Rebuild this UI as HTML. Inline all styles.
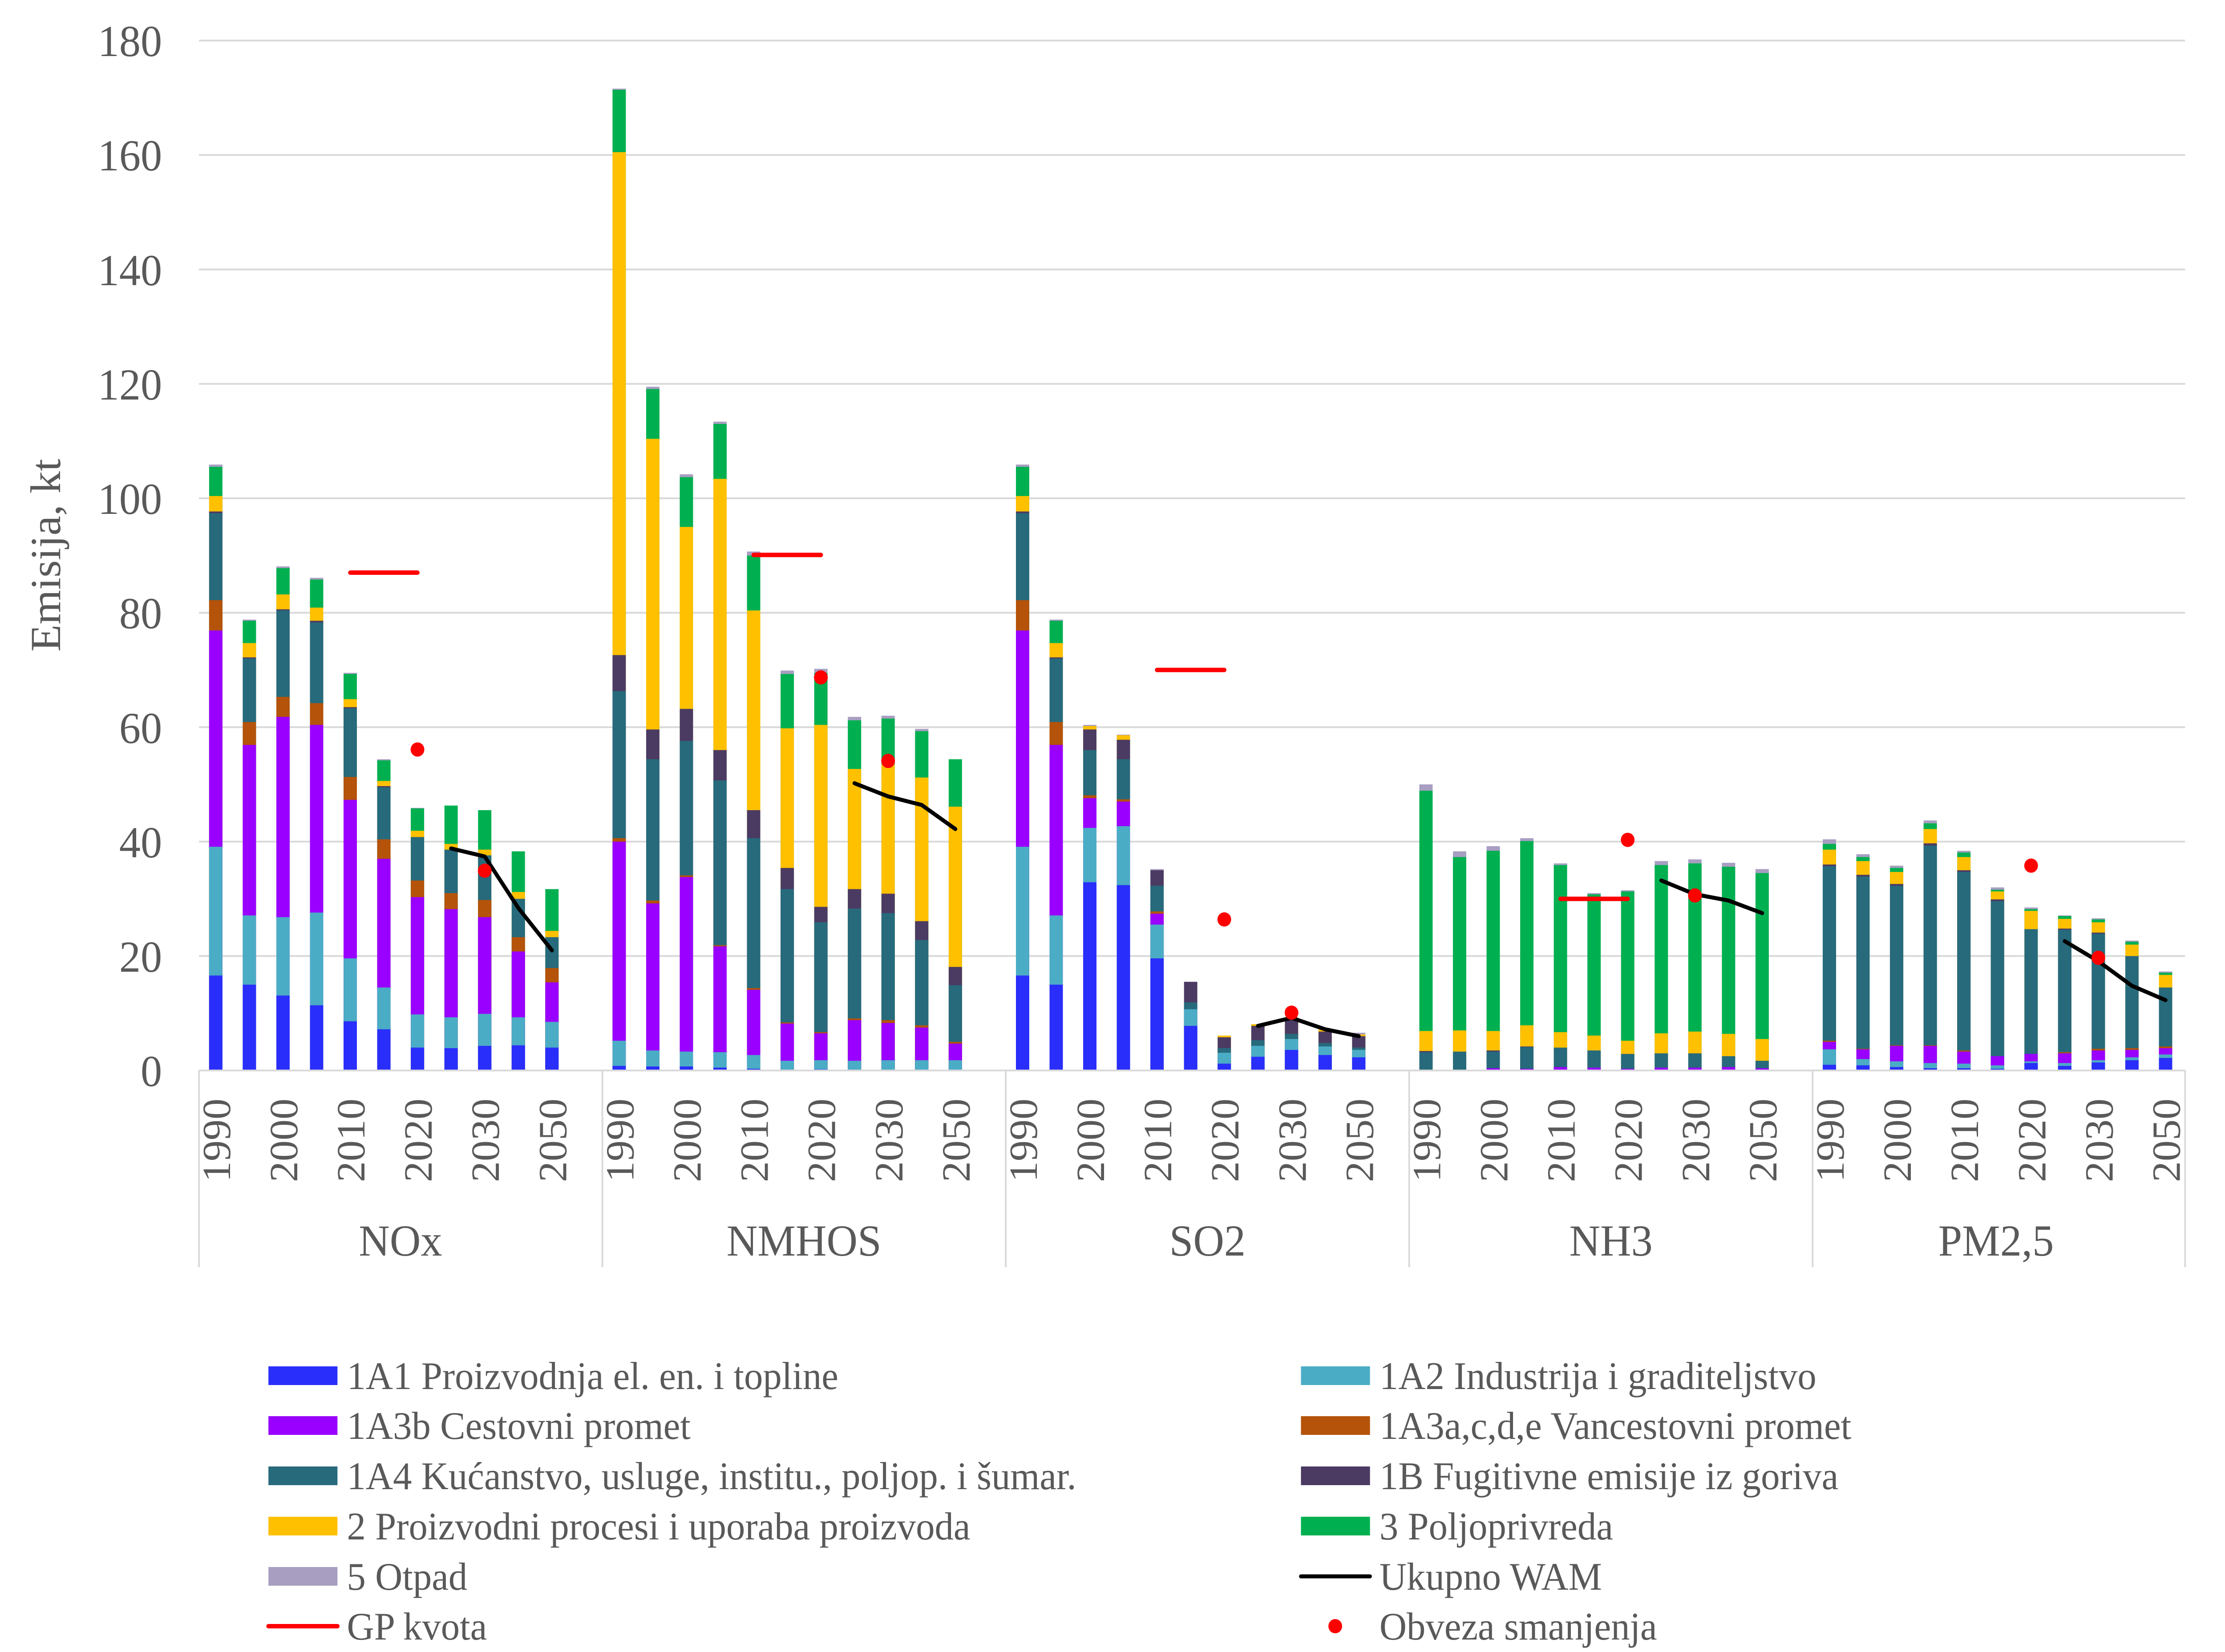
<!DOCTYPE html>
<html><head><meta charset="utf-8"><style>
html,body{margin:0;padding:0;background:#fff;overflow:hidden;width:100%;height:100%}
svg{display:block;position:fixed;left:0;top:0;width:100vw;height:100vh}
.o{fill:#A89EC1}.p{fill:#00B050}.y{fill:#FFC000}.f{fill:#4B3B62}.t{fill:#276A7C}.r{fill:#B45309}.c{fill:#9900FF}.l{fill:#4BACC6}.b{fill:#2A2EFA}
text{font-family:"Liberation Serif",serif;fill:#595959}
.yt{font-size:100px;text-anchor:end}
.xt{font-size:94px;text-anchor:end}
.gl{font-size:100px;text-anchor:middle}
.lg{font-size:88px}
</style></head><body>
<svg viewBox="0 0 5189 3713" preserveAspectRatio="none" xmlns="http://www.w3.org/2000/svg">
<rect width="5189" height="3713" fill="#fff"/>
<g stroke="#D9D9D9" stroke-width="4">
<line x1="464" x2="5096" y1="2148.8" y2="2148.8"/><line x1="464" x2="5096" y1="1891.6" y2="1891.6"/>
<line x1="464" x2="5096" y1="1634.4" y2="1634.4"/><line x1="464" x2="5096" y1="1377.2" y2="1377.2"/>
<line x1="464" x2="5096" y1="1120" y2="1120"/><line x1="464" x2="5096" y1="862.8" y2="862.8"/>
<line x1="464" x2="5096" y1="605.6" y2="605.6"/><line x1="464" x2="5096" y1="348.4" y2="348.4"/>
<line x1="464" x2="5096" y1="91.2" y2="91.2"/>
</g>
<g class="yt">
<text x="378" y="2441">0</text><text x="378" y="2184">20</text><text x="378" y="1927">40</text>
<text x="378" y="1670">60</text><text x="378" y="1412">80</text><text x="378" y="1155">100</text>
<text x="378" y="898">120</text><text x="378" y="641">140</text><text x="378" y="383">160</text>
<text x="378" y="126">180</text>
</g>
<text transform="translate(140,1248) rotate(-90)" style="font-size:100px;text-anchor:middle">Emisija, kt</text>

<g transform="translate(0,2406) scale(1,-12.86)">
<g transform="translate(487.7,0)"><rect class="o" width="31" height="105.9"/><rect class="p" width="31" height="105.5"/><rect class="y" width="31" height="100.4"/><rect class="f" width="31" height="97.7"/><rect class="t" width="31" height="97.4"/><rect class="r" width="31" height="82.2"/><rect class="c" width="31" height="76.9"/><rect class="l" width="31" height="39.1"/><rect class="b" width="31" height="16.6"/></g>
<g transform="translate(566.1,0)"><rect class="o" width="31" height="78.8"/><rect class="p" width="31" height="78.6"/><rect class="y" width="31" height="74.7"/><rect class="f" width="31" height="72.2"/><rect class="t" width="31" height="72.0"/><rect class="r" width="31" height="60.9"/><rect class="c" width="31" height="56.9"/><rect class="l" width="31" height="27.1"/><rect class="b" width="31" height="15.0"/></g>
<g transform="translate(644.5,0)"><rect class="o" width="31" height="88.1"/><rect class="p" width="31" height="87.8"/><rect class="y" width="31" height="83.2"/><rect class="f" width="31" height="80.6"/><rect class="t" width="31" height="80.4"/><rect class="r" width="31" height="65.3"/><rect class="c" width="31" height="61.8"/><rect class="l" width="31" height="26.8"/><rect class="b" width="31" height="13.1"/></g>
<g transform="translate(722.9,0)"><rect class="o" width="31" height="86.1"/><rect class="p" width="31" height="85.8"/><rect class="y" width="31" height="80.9"/><rect class="f" width="31" height="78.6"/><rect class="t" width="31" height="78.3"/><rect class="r" width="31" height="64.2"/><rect class="c" width="31" height="60.4"/><rect class="l" width="31" height="27.6"/><rect class="b" width="31" height="11.4"/></g>
<g transform="translate(801.3,0)"><rect class="o" width="31" height="69.5"/><rect class="p" width="31" height="69.3"/><rect class="y" width="31" height="64.9"/><rect class="f" width="31" height="63.5"/><rect class="t" width="31" height="63.3"/><rect class="r" width="31" height="51.3"/><rect class="c" width="31" height="47.3"/><rect class="l" width="31" height="19.6"/><rect class="b" width="31" height="8.6"/></g>
<g transform="translate(879.7,0)"><rect class="o" width="31" height="54.4"/><rect class="p" width="31" height="54.2"/><rect class="y" width="31" height="50.6"/><rect class="f" width="31" height="49.7"/><rect class="t" width="31" height="49.5"/><rect class="r" width="31" height="40.4"/><rect class="c" width="31" height="37.0"/><rect class="l" width="31" height="14.5"/><rect class="b" width="31" height="7.2"/></g>
<g transform="translate(958.1,0)"><rect class="o" width="31" height="45.9"/><rect class="p" width="31" height="45.8"/><rect class="y" width="31" height="41.9"/><rect class="t" width="31" height="40.8"/><rect class="r" width="31" height="33.2"/><rect class="c" width="31" height="30.3"/><rect class="l" width="31" height="9.8"/><rect class="b" width="31" height="4.0"/></g>
<g transform="translate(1036.5,0)"><rect class="p" width="31" height="46.3"/><rect class="y" width="31" height="39.6"/><rect class="t" width="31" height="38.6"/><rect class="r" width="31" height="31.0"/><rect class="c" width="31" height="28.2"/><rect class="l" width="31" height="9.3"/><rect class="b" width="31" height="3.9"/></g>
<g transform="translate(1114.9,0)"><rect class="p" width="31" height="45.5"/><rect class="y" width="31" height="38.6"/><rect class="t" width="31" height="37.6"/><rect class="r" width="31" height="29.8"/><rect class="c" width="31" height="26.8"/><rect class="l" width="31" height="9.9"/><rect class="b" width="31" height="4.3"/></g>
<g transform="translate(1193.3,0)"><rect class="p" width="31" height="38.3"/><rect class="y" width="31" height="31.2"/><rect class="t" width="31" height="30.0"/><rect class="r" width="31" height="23.3"/><rect class="c" width="31" height="20.8"/><rect class="l" width="31" height="9.3"/><rect class="b" width="31" height="4.4"/></g>
<g transform="translate(1271.7,0)"><rect class="p" width="31" height="31.7"/><rect class="y" width="31" height="24.4"/><rect class="t" width="31" height="23.3"/><rect class="r" width="31" height="17.9"/><rect class="c" width="31" height="15.4"/><rect class="l" width="31" height="8.5"/><rect class="b" width="31" height="4.0"/></g>
<g transform="translate(1428.5,0)"><rect class="o" width="31" height="171.6"/><rect class="p" width="31" height="171.4"/><rect class="y" width="31" height="160.5"/><rect class="f" width="31" height="72.6"/><rect class="t" width="31" height="66.3"/><rect class="r" width="31" height="40.6"/><rect class="c" width="31" height="40.0"/><rect class="l" width="31" height="5.2"/><rect class="b" width="31" height="0.8"/></g>
<g transform="translate(1506.9,0)"><rect class="o" width="31" height="119.5"/><rect class="p" width="31" height="119.1"/><rect class="y" width="31" height="110.4"/><rect class="f" width="31" height="59.6"/><rect class="t" width="31" height="54.4"/><rect class="r" width="31" height="29.7"/><rect class="c" width="31" height="29.2"/><rect class="l" width="31" height="3.5"/><rect class="b" width="31" height="0.7"/></g>
<g transform="translate(1585.3,0)"><rect class="o" width="31" height="104.2"/><rect class="p" width="31" height="103.7"/><rect class="y" width="31" height="95.0"/><rect class="f" width="31" height="63.2"/><rect class="t" width="31" height="57.6"/><rect class="r" width="31" height="34.1"/><rect class="c" width="31" height="33.8"/><rect class="l" width="31" height="3.3"/><rect class="b" width="31" height="0.7"/></g>
<g transform="translate(1663.7,0)"><rect class="o" width="31" height="113.4"/><rect class="p" width="31" height="113.0"/><rect class="y" width="31" height="103.4"/><rect class="f" width="31" height="56.0"/><rect class="t" width="31" height="50.7"/><rect class="r" width="31" height="21.9"/><rect class="c" width="31" height="21.7"/><rect class="l" width="31" height="3.2"/><rect class="b" width="31" height="0.5"/></g>
<g transform="translate(1742.1,0)"><rect class="o" width="31" height="90.7"/><rect class="p" width="31" height="90.0"/><rect class="y" width="31" height="80.4"/><rect class="f" width="31" height="45.5"/><rect class="t" width="31" height="40.6"/><rect class="r" width="31" height="14.4"/><rect class="c" width="31" height="14.1"/><rect class="l" width="31" height="2.7"/><rect class="b" width="31" height="0.3"/></g>
<g transform="translate(1820.5,0)"><rect class="o" width="31" height="69.9"/><rect class="p" width="31" height="69.3"/><rect class="y" width="31" height="59.8"/><rect class="f" width="31" height="35.4"/><rect class="t" width="31" height="31.7"/><rect class="r" width="31" height="8.4"/><rect class="c" width="31" height="8.2"/><rect class="l" width="31" height="1.7"/></g>
<g transform="translate(1898.9,0)"><rect class="o" width="31" height="70.2"/><rect class="p" width="31" height="69.5"/><rect class="y" width="31" height="60.4"/><rect class="f" width="31" height="28.6"/><rect class="t" width="31" height="25.9"/><rect class="r" width="31" height="6.7"/><rect class="c" width="31" height="6.5"/><rect class="l" width="31" height="1.8"/><rect class="b" width="31" height="0.2"/></g>
<g transform="translate(1977.3,0)"><rect class="o" width="31" height="61.8"/><rect class="p" width="31" height="61.2"/><rect class="y" width="31" height="52.7"/><rect class="f" width="31" height="31.7"/><rect class="t" width="31" height="28.3"/><rect class="r" width="31" height="9.1"/><rect class="c" width="31" height="8.8"/><rect class="l" width="31" height="1.7"/></g>
<g transform="translate(2055.7,0)"><rect class="o" width="31" height="62.0"/><rect class="p" width="31" height="61.5"/><rect class="y" width="31" height="53.5"/><rect class="f" width="31" height="30.9"/><rect class="t" width="31" height="27.5"/><rect class="r" width="31" height="8.8"/><rect class="c" width="31" height="8.3"/><rect class="l" width="31" height="1.8"/></g>
<g transform="translate(2134.1,0)"><rect class="o" width="31" height="59.7"/><rect class="p" width="31" height="59.3"/><rect class="y" width="31" height="51.2"/><rect class="f" width="31" height="26.1"/><rect class="t" width="31" height="22.8"/><rect class="r" width="31" height="7.9"/><rect class="c" width="31" height="7.5"/><rect class="l" width="31" height="1.8"/></g>
<g transform="translate(2212.5,0)"><rect class="p" width="31" height="54.4"/><rect class="y" width="31" height="46.1"/><rect class="f" width="31" height="18.1"/><rect class="t" width="31" height="14.9"/><rect class="r" width="31" height="5.0"/><rect class="c" width="31" height="4.7"/><rect class="l" width="31" height="1.8"/></g>
<g transform="translate(2369.3,0)"><rect class="o" width="31" height="105.9"/><rect class="p" width="31" height="105.5"/><rect class="y" width="31" height="100.4"/><rect class="f" width="31" height="97.7"/><rect class="t" width="31" height="97.4"/><rect class="r" width="31" height="82.2"/><rect class="c" width="31" height="76.9"/><rect class="l" width="31" height="39.1"/><rect class="b" width="31" height="16.6"/></g>
<g transform="translate(2447.7,0)"><rect class="o" width="31" height="78.8"/><rect class="p" width="31" height="78.6"/><rect class="y" width="31" height="74.7"/><rect class="f" width="31" height="72.2"/><rect class="t" width="31" height="72.0"/><rect class="r" width="31" height="60.9"/><rect class="c" width="31" height="56.9"/><rect class="l" width="31" height="27.1"/><rect class="b" width="31" height="15.0"/></g>
<g transform="translate(2526.1,0)"><rect class="o" width="31" height="60.4"/><rect class="y" width="31" height="60.2"/><rect class="f" width="31" height="59.6"/><rect class="t" width="31" height="56.0"/><rect class="r" width="31" height="48.1"/><rect class="c" width="31" height="47.6"/><rect class="l" width="31" height="42.4"/><rect class="b" width="31" height="32.9"/></g>
<g transform="translate(2604.5,0)"><rect class="o" width="31" height="58.7"/><rect class="y" width="31" height="58.6"/><rect class="f" width="31" height="57.8"/><rect class="t" width="31" height="54.4"/><rect class="r" width="31" height="47.4"/><rect class="c" width="31" height="47.0"/><rect class="l" width="31" height="42.7"/><rect class="b" width="31" height="32.4"/></g>
<g transform="translate(2682.9,0)"><rect class="o" width="31" height="35.2"/><rect class="f" width="31" height="35.0"/><rect class="t" width="31" height="32.3"/><rect class="r" width="31" height="27.8"/><rect class="c" width="31" height="27.4"/><rect class="l" width="31" height="25.5"/><rect class="b" width="31" height="19.6"/></g>
<g transform="translate(2761.3,0)"><rect class="f" width="31" height="15.5"/><rect class="t" width="31" height="11.9"/><rect class="l" width="31" height="10.7"/><rect class="b" width="31" height="7.8"/></g>
<g transform="translate(2839.7,0)"><rect class="y" width="31" height="6.1"/><rect class="f" width="31" height="5.8"/><rect class="t" width="31" height="3.9"/><rect class="l" width="31" height="3.1"/><rect class="b" width="31" height="1.2"/></g>
<g transform="translate(2918.1,0)"><rect class="y" width="31" height="8.1"/><rect class="f" width="31" height="7.8"/><rect class="t" width="31" height="5.3"/><rect class="l" width="31" height="4.3"/><rect class="b" width="31" height="2.4"/></g>
<g transform="translate(2996.5,0)"><rect class="y" width="31" height="9.3"/><rect class="f" width="31" height="9.0"/><rect class="t" width="31" height="6.4"/><rect class="l" width="31" height="5.5"/><rect class="b" width="31" height="3.6"/></g>
<g transform="translate(3074.9,0)"><rect class="y" width="31" height="7.3"/><rect class="f" width="31" height="6.8"/><rect class="t" width="31" height="4.8"/><rect class="l" width="31" height="4.2"/><rect class="b" width="31" height="2.7"/></g>
<g transform="translate(3153.3,0)"><rect class="o" width="31" height="6.6"/><rect class="y" width="31" height="6.3"/><rect class="f" width="31" height="6.0"/><rect class="t" width="31" height="4.0"/><rect class="l" width="31" height="3.6"/><rect class="b" width="31" height="2.3"/></g>
<g transform="translate(3310.1,0)"><rect class="o" width="31" height="50.0"/><rect class="p" width="31" height="48.9"/><rect class="y" width="31" height="6.9"/><rect class="f" width="31" height="3.4"/><rect class="t" width="31" height="3.2"/></g>
<g transform="translate(3388.5,0)"><rect class="o" width="31" height="38.3"/><rect class="p" width="31" height="37.3"/><rect class="y" width="31" height="7.0"/><rect class="t" width="31" height="3.3"/></g>
<g transform="translate(3466.9,0)"><rect class="o" width="31" height="39.2"/><rect class="p" width="31" height="38.4"/><rect class="y" width="31" height="6.9"/><rect class="f" width="31" height="3.5"/><rect class="t" width="31" height="3.3"/><rect class="c" width="31" height="0.4"/></g>
<g transform="translate(3545.3,0)"><rect class="o" width="31" height="40.6"/><rect class="p" width="31" height="40.1"/><rect class="y" width="31" height="7.9"/><rect class="f" width="31" height="4.2"/><rect class="t" width="31" height="4.1"/><rect class="c" width="31" height="0.3"/></g>
<g transform="translate(3623.7,0)"><rect class="o" width="31" height="36.2"/><rect class="p" width="31" height="35.9"/><rect class="y" width="31" height="6.7"/><rect class="t" width="31" height="4.0"/><rect class="c" width="31" height="0.6"/></g>
<g transform="translate(3702.1,0)"><rect class="o" width="31" height="31.0"/><rect class="p" width="31" height="30.8"/><rect class="y" width="31" height="6.1"/><rect class="t" width="31" height="3.5"/><rect class="c" width="31" height="0.5"/></g>
<g transform="translate(3780.5,0)"><rect class="o" width="31" height="31.5"/><rect class="p" width="31" height="31.3"/><rect class="y" width="31" height="5.2"/><rect class="t" width="31" height="2.9"/><rect class="c" width="31" height="0.3"/></g>
<g transform="translate(3858.9,0)"><rect class="o" width="31" height="36.6"/><rect class="p" width="31" height="35.9"/><rect class="y" width="31" height="6.5"/><rect class="t" width="31" height="3.0"/><rect class="c" width="31" height="0.5"/></g>
<g transform="translate(3937.3,0)"><rect class="o" width="31" height="36.9"/><rect class="p" width="31" height="36.2"/><rect class="y" width="31" height="6.8"/><rect class="t" width="31" height="3.0"/><rect class="c" width="31" height="0.5"/></g>
<g transform="translate(4015.7,0)"><rect class="o" width="31" height="36.3"/><rect class="p" width="31" height="35.6"/><rect class="y" width="31" height="6.4"/><rect class="t" width="31" height="2.5"/><rect class="c" width="31" height="0.6"/></g>
<g transform="translate(4094.1,0)"><rect class="o" width="31" height="35.2"/><rect class="p" width="31" height="34.5"/><rect class="y" width="31" height="5.5"/><rect class="t" width="31" height="1.7"/><rect class="c" width="31" height="0.4"/></g>
<g transform="translate(4250.9,0)"><rect class="o" width="31" height="40.4"/><rect class="p" width="31" height="39.6"/><rect class="y" width="31" height="38.6"/><rect class="f" width="31" height="36.0"/><rect class="t" width="31" height="35.7"/><rect class="r" width="31" height="5.2"/><rect class="c" width="31" height="5.0"/><rect class="l" width="31" height="3.7"/><rect class="b" width="31" height="1.0"/></g>
<g transform="translate(4329.3,0)"><rect class="o" width="31" height="37.8"/><rect class="p" width="31" height="37.3"/><rect class="y" width="31" height="36.6"/><rect class="f" width="31" height="34.2"/><rect class="t" width="31" height="33.9"/><rect class="r" width="31" height="3.8"/><rect class="c" width="31" height="3.7"/><rect class="l" width="31" height="2.0"/><rect class="b" width="31" height="0.9"/></g>
<g transform="translate(4407.7,0)"><rect class="o" width="31" height="35.8"/><rect class="p" width="31" height="35.4"/><rect class="y" width="31" height="34.7"/><rect class="f" width="31" height="32.6"/><rect class="t" width="31" height="32.3"/><rect class="r" width="31" height="4.4"/><rect class="c" width="31" height="4.3"/><rect class="l" width="31" height="1.6"/><rect class="b" width="31" height="0.6"/></g>
<g transform="translate(4486.1,0)"><rect class="o" width="31" height="43.7"/><rect class="p" width="31" height="43.2"/><rect class="y" width="31" height="42.2"/><rect class="f" width="31" height="39.7"/><rect class="t" width="31" height="39.3"/><rect class="r" width="31" height="4.4"/><rect class="c" width="31" height="4.3"/><rect class="l" width="31" height="1.3"/><rect class="b" width="31" height="0.4"/></g>
<g transform="translate(4564.5,0)"><rect class="o" width="31" height="38.4"/><rect class="p" width="31" height="38.1"/><rect class="y" width="31" height="37.3"/><rect class="f" width="31" height="35.0"/><rect class="t" width="31" height="34.7"/><rect class="r" width="31" height="3.5"/><rect class="c" width="31" height="3.3"/><rect class="l" width="31" height="1.2"/><rect class="b" width="31" height="0.4"/></g>
<g transform="translate(4642.9,0)"><rect class="o" width="31" height="32.0"/><rect class="p" width="31" height="31.6"/><rect class="y" width="31" height="31.3"/><rect class="f" width="31" height="29.9"/><rect class="t" width="31" height="29.6"/><rect class="c" width="31" height="2.5"/><rect class="l" width="31" height="0.9"/><rect class="b" width="31" height="0.3"/></g>
<g transform="translate(4721.3,0)"><rect class="o" width="31" height="28.5"/><rect class="p" width="31" height="28.2"/><rect class="y" width="31" height="27.9"/><rect class="t" width="31" height="24.7"/><rect class="c" width="31" height="2.9"/><rect class="l" width="31" height="1.6"/><rect class="b" width="31" height="1.3"/></g>
<g transform="translate(4799.7,0)"><rect class="o" width="31" height="27.1"/><rect class="p" width="31" height="27.0"/><rect class="y" width="31" height="26.5"/><rect class="f" width="31" height="24.8"/><rect class="t" width="31" height="24.6"/><rect class="r" width="31" height="3.2"/><rect class="c" width="31" height="3.0"/><rect class="l" width="31" height="1.3"/><rect class="b" width="31" height="0.8"/></g>
<g transform="translate(4878.1,0)"><rect class="o" width="31" height="26.6"/><rect class="p" width="31" height="26.4"/><rect class="y" width="31" height="25.9"/><rect class="f" width="31" height="24.1"/><rect class="t" width="31" height="23.9"/><rect class="r" width="31" height="3.8"/><rect class="c" width="31" height="3.5"/><rect class="l" width="31" height="1.8"/><rect class="b" width="31" height="1.4"/></g>
<g transform="translate(4956.5,0)"><rect class="o" width="31" height="22.7"/><rect class="p" width="31" height="22.5"/><rect class="y" width="31" height="22.0"/><rect class="t" width="31" height="20.0"/><rect class="r" width="31" height="3.9"/><rect class="c" width="31" height="3.6"/><rect class="l" width="31" height="2.3"/><rect class="b" width="31" height="1.8"/></g>
<g transform="translate(5034.9,0)"><rect class="o" width="31" height="17.3"/><rect class="p" width="31" height="17.1"/><rect class="y" width="31" height="16.7"/><rect class="t" width="31" height="14.5"/><rect class="r" width="31" height="4.2"/><rect class="c" width="31" height="3.9"/><rect class="l" width="31" height="2.8"/><rect class="b" width="31" height="2.2"/></g>
</g>

<g stroke="#D9D9D9" stroke-width="4">
<line x1="464" x2="5096" y1="2406" y2="2406"/>
<line x1="464" x2="464" y1="2406" y2="2848"/><line x1="1404.8" x2="1404.8" y1="2406" y2="2848"/>
<line x1="2345.6" x2="2345.6" y1="2406" y2="2848"/><line x1="3286.4" x2="3286.4" y1="2406" y2="2848"/>
<line x1="4227.2" x2="4227.2" y1="2406" y2="2848"/><line x1="5096" x2="5096" y1="2406" y2="2848"/>
</g>

<g stroke="#FF0000" stroke-width="10" stroke-linecap="round">
<line x1="816.8" x2="973.6" y1="1287" y2="1287"/>
<line x1="1757.6" x2="1914.4" y1="1247.3" y2="1247.3"/>
<line x1="2698.4" x2="2855.2" y1="1505.8" y2="1505.8"/>
<line x1="3639.2" x2="3796" y1="2020.2" y2="2020.2"/>
</g>
<g stroke="#000" stroke-width="9" fill="none" stroke-linecap="round" stroke-linejoin="round">
<polyline points="1052,1907 1130.4,1925 1208.8,2040.8 1287.2,2136"/>
<polyline points="1992.8,1760.4 2071.2,1790 2149.6,1809.3 2228,1863.3"/>
<polyline points="2933.6,2305.7 3012,2287.7 3090.4,2313.4 3168.8,2328.8"/>
<polyline points="3874.4,1979 3952.8,2009.9 4031.2,2024.1 4109.6,2052.3"/>
<polyline points="4815.2,2115.4 4893.6,2160.4 4972,2215.7 5050.4,2247.8"/>
</g>
<g fill="#FF0000">
<circle cx="973.6" cy="1684.6" r="16"/><circle cx="1130.4" cy="1957" r="16"/>
<circle cx="1914.4" cy="1522.5" r="16"/><circle cx="2071.2" cy="1710.3" r="16"/>
<circle cx="2855.2" cy="2066.5" r="16"/><circle cx="3012" cy="2276.1" r="16"/>
<circle cx="3796" cy="1887.7" r="16"/><circle cx="3952.8" cy="2012.5" r="16"/>
<circle cx="4736.8" cy="1945.6" r="16"/><circle cx="4893.6" cy="2152.7" r="16"/>
</g>

<g class="xt">
<text transform="translate(536.4,2469) rotate(-90)">1990</text>
<text transform="translate(693.2,2469) rotate(-90)">2000</text>
<text transform="translate(850,2469) rotate(-90)">2010</text>
<text transform="translate(1006.8,2469) rotate(-90)">2020</text>
<text transform="translate(1163.6,2469) rotate(-90)">2030</text>
<text transform="translate(1320.4,2469) rotate(-90)">2050</text>
<text transform="translate(1477.2,2469) rotate(-90)">1990</text>
<text transform="translate(1634,2469) rotate(-90)">2000</text>
<text transform="translate(1790.8,2469) rotate(-90)">2010</text>
<text transform="translate(1947.6,2469) rotate(-90)">2020</text>
<text transform="translate(2104.4,2469) rotate(-90)">2030</text>
<text transform="translate(2261.2,2469) rotate(-90)">2050</text>
<text transform="translate(2418,2469) rotate(-90)">1990</text>
<text transform="translate(2574.8,2469) rotate(-90)">2000</text>
<text transform="translate(2731.6,2469) rotate(-90)">2010</text>
<text transform="translate(2888.4,2469) rotate(-90)">2020</text>
<text transform="translate(3045.2,2469) rotate(-90)">2030</text>
<text transform="translate(3202,2469) rotate(-90)">2050</text>
<text transform="translate(3358.8,2469) rotate(-90)">1990</text>
<text transform="translate(3515.6,2469) rotate(-90)">2000</text>
<text transform="translate(3672.4,2469) rotate(-90)">2010</text>
<text transform="translate(3829.2,2469) rotate(-90)">2020</text>
<text transform="translate(3986,2469) rotate(-90)">2030</text>
<text transform="translate(4142.8,2469) rotate(-90)">2050</text>
<text transform="translate(4299.6,2469) rotate(-90)">1990</text>
<text transform="translate(4456.4,2469) rotate(-90)">2000</text>
<text transform="translate(4613.2,2469) rotate(-90)">2010</text>
<text transform="translate(4770,2469) rotate(-90)">2020</text>
<text transform="translate(4926.8,2469) rotate(-90)">2030</text>
<text transform="translate(5083.6,2469) rotate(-90)">2050</text>
</g>
<g class="gl">
<text x="934" y="2822">NOx</text>
<text x="1875" y="2822">NMHOS</text>
<text x="2816" y="2822">SO2</text>
<text x="3757" y="2822">NH3</text>
<text x="4655" y="2822">PM2,5</text>
</g>

<g>
<rect class="b" x="626" y="3071" width="161" height="42"/>
<rect class="c" x="626" y="3183" width="161" height="42"/>
<rect class="t" x="626" y="3296" width="161" height="42"/>
<rect class="y" x="626" y="3409" width="161" height="42"/>
<rect class="o" x="626" y="3522" width="161" height="42"/>
<line x1="626" x2="787" y1="3655" y2="3655" stroke="#FF0000" stroke-width="10" stroke-linecap="round"/>
<rect class="l" x="3034" y="3071" width="161" height="42"/>
<rect class="r" x="3034" y="3183" width="161" height="42"/>
<rect class="f" x="3034" y="3296" width="161" height="42"/>
<rect class="p" x="3034" y="3409" width="161" height="42"/>
<line x1="3034" x2="3195" y1="3543" y2="3543" stroke="#000" stroke-width="9" stroke-linecap="round"/>
<circle cx="3114" cy="3655" r="16" fill="#FF0000"/>
</g>
<g class="lg">
<text x="809" y="3122">1A1 Proizvodnja el. en. i topline</text>
<text x="809" y="3234">1A3b Cestovni promet</text>
<text x="809" y="3347">1A4 Kućanstvo, usluge, institu., poljop. i šumar.</text>
<text x="809" y="3460">2 Proizvodni procesi i uporaba proizvoda</text>
<text x="809" y="3573">5 Otpad</text>
<text x="809" y="3685">GP kvota</text>
<text x="3217" y="3122">1A2 Industrija i graditeljstvo</text>
<text x="3217" y="3234">1A3a,c,d,e Vancestovni promet</text>
<text x="3217" y="3347">1B Fugitivne emisije iz goriva</text>
<text x="3217" y="3460">3 Poljoprivreda</text>
<text x="3217" y="3573">Ukupno WAM</text>
<text x="3217" y="3685">Obveza smanjenja</text>
</g>
</svg>
</body></html>
